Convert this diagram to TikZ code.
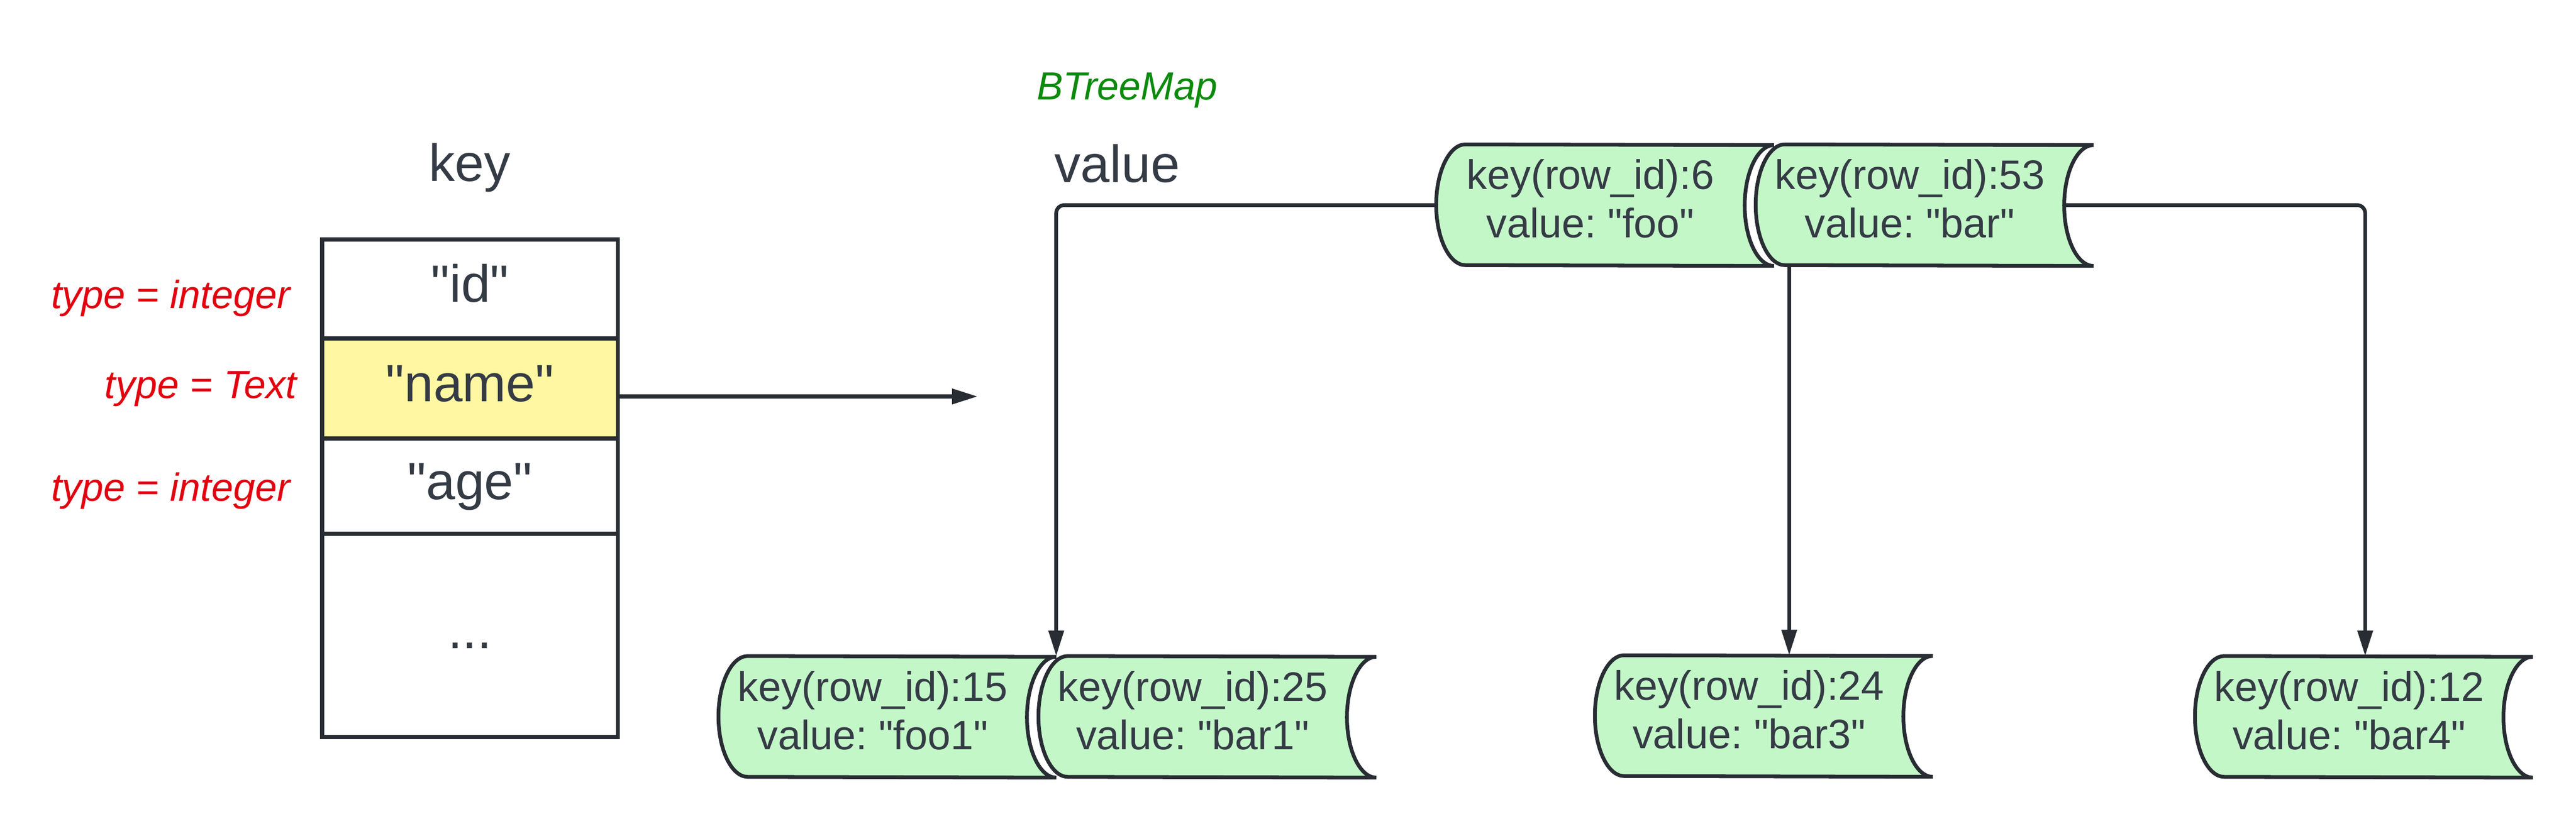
\documentclass[tikz,border=0pt]{standalone}
\usepackage{fontspec}
\setmainfont{Liberation Sans}[Ligatures=TeXOff]
\usetikzlibrary{positioning,arrows.meta,backgrounds}
\definecolor{ink}{HTML}{282C33}
\definecolor{txt}{HTML}{353B45}
\definecolor{recfill}{HTML}{C3F7C8}
\definecolor{hl}{HTML}{FFF7A1}
\definecolor{typered}{HTML}{E3000F}
\definecolor{mapgreen}{HTML}{0B8A0B}
\frenchspacing

\begin{document}
\begin{tikzpicture}[
    cell/.style={draw=ink, line width=2pt, minimum width=5.55cm, outer sep=0pt, text=txt, font=\fontsize{28}{34}\selectfont, text height=21pt, text depth=7pt},
    title/.style={text=txt, font=\fontsize{28}{34}\selectfont, inner sep=0pt},
    typ/.style={text=typered, font=\fontsize{21}{25}\selectfont\itshape, inner sep=0pt},
    rec/.style={minimum width=5.78cm, minimum height=2.27cm, inner sep=0pt, text=txt, align=center, text depth=7pt, font=\fontsize{22}{26}\selectfont},
    link/.style={draw=ink, line width=2pt, -{Triangle[length=4.8mm,width=2.8mm]}},
    ]
    \useasboundingbox (0,0) rectangle (48.38,15.38);

    \node[cell, minimum height=1.86cm] (id) at (8.825,9.95) {"id"};
    \node[cell, minimum height=1.88cm, fill=hl, below=0pt of id] (name) {"name"};
    \node[cell, minimum height=1.79cm, below=0pt of name] (age) {"age"};
    \node[cell, minimum height=3.82cm, below=0pt of age] (more) {...};
    \node[title, anchor=base] (key) at (8.82,11.97) {key};

    \node[typ, anchor=base east] (t1) at (5.46,9.58) {type = integer};
    \node[typ, anchor=base east] (t2) at (5.58,7.89) {type = Text};
    \node[typ, anchor=base east] (t3) at (5.46,5.96) {type = integer};

    \node[typ, text=mapgreen, anchor=base] (map) at (21.17,13.50) {BTreeMap};
    \node[title, anchor=base west] (val) at (19.80,11.95) {value};

    \node[rec] (r6) at (29.87,11.525) {key(row\_id):6\\value: "foo"};
    \node[rec] (r53) at (35.87,11.525) {key(row\_id):53\\value: "bar"};
    \node[rec] (r15) at (16.39,1.91) {key(row\_id):15\\value: "foo1"};
    \node[rec] (r25) at (22.40,1.91) {key(row\_id):25\\value: "bar1"};
    \node[rec] (r24) at (32.85,1.925) {key(row\_id):24\\value: "bar3"};
    \node[rec] (r12) at (44.12,1.91) {key(row\_id):12\\value: "bar4"};

    \begin{pgfonlayer}{background}
    \foreach \n in {r6,r53,r15,r25,r24,r12}
        \draw[draw=ink, line width=2pt, fill=recfill] ([xshift=5.5mm]\n.north west)
            arc[start angle=90, end angle=270, x radius=5.5mm, y radius=11.35mm]
            -- ([xshift=5.5mm]\n.south east)
            arc[start angle=270, end angle=90, x radius=5.5mm, y radius=11.35mm] -- cycle;
    \end{pgfonlayer}

    \coordinate (vtip) at (18.36,7.93);
    \draw[link] (name.east |- vtip) -- (vtip);
    \draw[link, rounded corners=1.5mm] (r6.west) -| ([xshift=5.5mm]r15.north east);
    \draw[link] ([xshift=6.3mm]r53.south west) -- ([xshift=6.3mm]r53.south west |- r24.north);
    \draw[link, rounded corners=1.5mm] (r53.east) -| ([xshift=3mm]r12.north);
\end{tikzpicture}
\end{document}
